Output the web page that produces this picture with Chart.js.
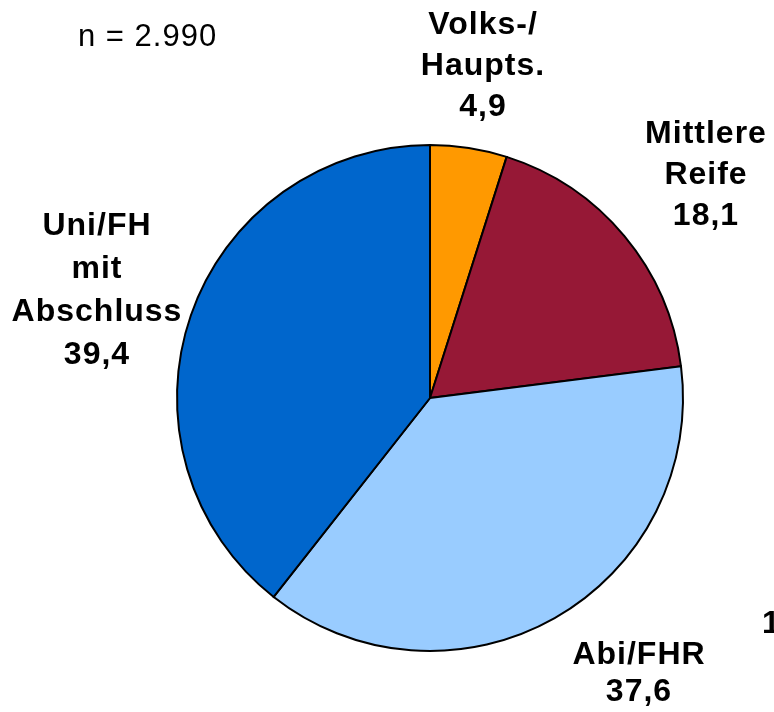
<!DOCTYPE html>
<html>
<head>
<meta charset="utf-8">
<script src="https://cdn.jsdelivr.net/npm/chart.js@4/dist/chart.umd.min.js"></script>
<style>
  html, body { margin: 0; padding: 0; background: #fff; }
  #wrap { width: 774px; height: 712px; position: relative; }
</style>
</head>
<body>
<div id="wrap"><canvas id="pieChart"></canvas></div>
<script>
var categories = [['Volks-/', 'Haupts.'], ['Mittlere', 'Reife'], ['Abi/FHR'], ['Uni/FH', 'mit', 'Abschluss']];
var values = [4.9, 18.1, 37.6, 39.4];
var valueLabels = ['4,9', '18,1', '37,6', '39,4'];
var sampleNote = 'n = 2.990';

var colors = ['#FF9900', '#961836', '#99CCFF', '#0066CC'];
// label block centres, relative to the pie centre
var labelOffsets = [[53, -332], [276, -223], [209, 276], [-333, -107]];
var lineHeights = [41, 41, 37, 43];

var labelPlugin = {
    id: 'sliceLabels',
    afterDraw: function (chart) {
        var c = chart.ctx;
        var arc = chart.getDatasetMeta(0).data[0];
        var cx = arc.x, cy = arc.y;
        c.save();
        c.fillStyle = '#000';
        c.textAlign = 'center';
        c.textBaseline = 'middle';
        c.font = 'bold 32px "Liberation Sans"';
        c.letterSpacing = '1px';
        for (var i = 0; i < values.length; i++) {
            var lines = categories[i].concat([valueLabels[i]]);
            var lh = lineHeights[i];
            var x = cx + labelOffsets[i][0];
            var y0 = cy + labelOffsets[i][1] - (lines.length - 1) * lh / 2;
            for (var j = 0; j < lines.length; j++) {
                c.fillText(lines[j], x, y0 + j * lh);
            }
        }
        c.textAlign = 'left';
        c.textBaseline = 'alphabetic';
        c.fillText('1', 762, 633);
        c.font = '31px "Liberation Sans"';
        c.letterSpacing = '1px';
        c.fillText(sampleNote, 78, 46);
        c.restore();
    }
};

var ctx = document.getElementById('pieChart').getContext('2d');
var myChart = new Chart(ctx, {
    type: 'pie',
    data: {
        labels: categories.map(function (l) { return l.join(' '); }),
        datasets: [{
            data: values,
            backgroundColor: colors,
            borderColor: '#000',
            borderWidth: 2,
            borderJoinStyle: 'miter'
        }]
    },
    options: {
        responsive: true,
        maintainAspectRatio: false,
        animation: false,
        layout: { padding: { left: 176, right: 90, top: 144, bottom: 60 } },
        plugins: {
            legend: { display: false },
            tooltip: { enabled: false }
        }
    },
    plugins: [labelPlugin]
});
</script>
</body>
</html>
